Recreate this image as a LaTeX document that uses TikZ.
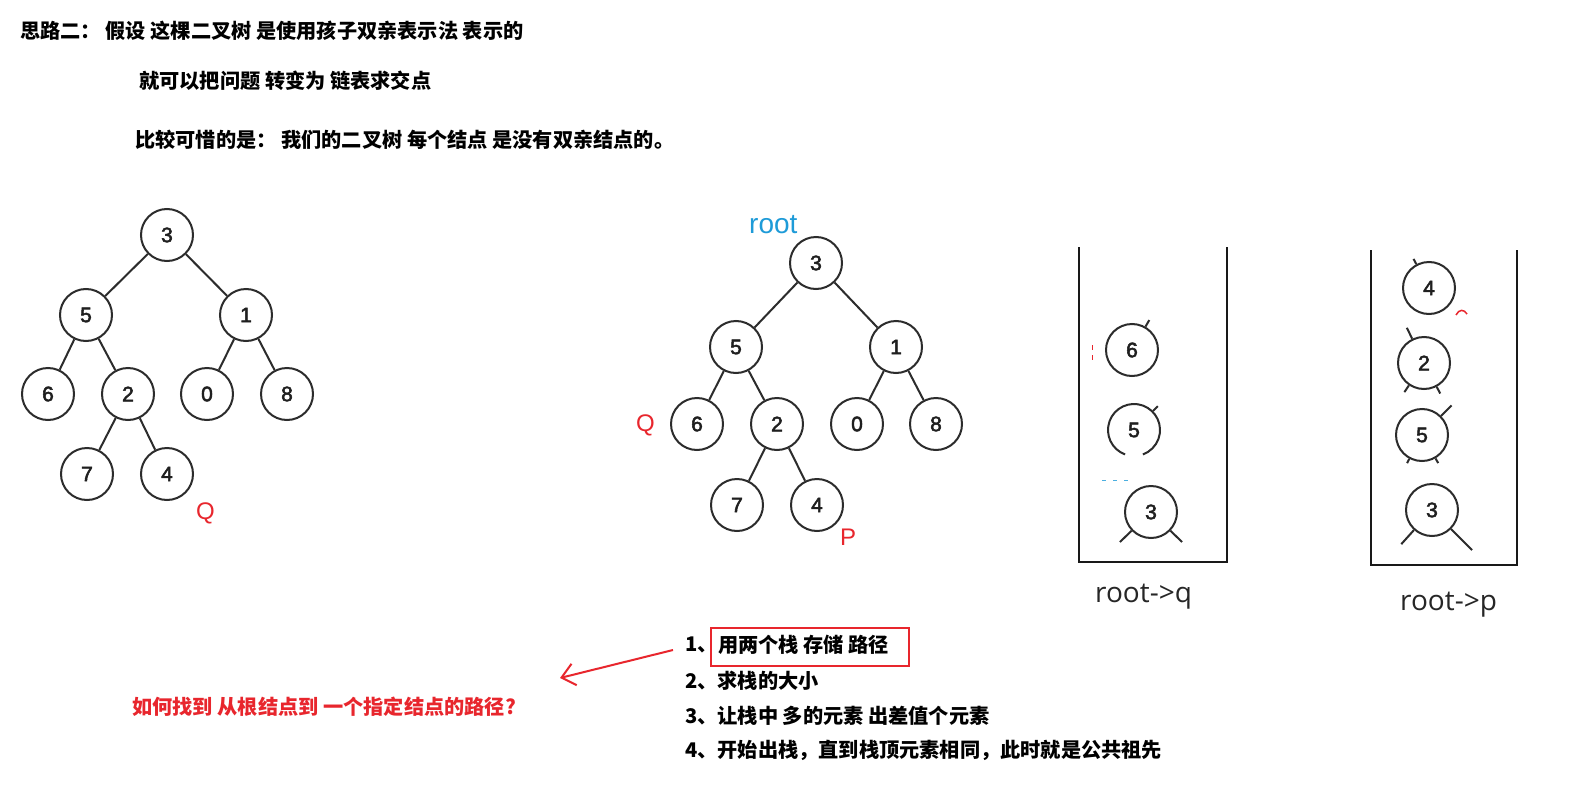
\documentclass[tikz,border=0pt]{standalone}
\usepackage{fontspec}
\newfontfamily\cjk{Noto Sans CJK SC}
\newfontfamily\lsans{Liberation Sans}
\newfontfamily\numfont{Liberation Sans}[FakeBold=2.5]
\newfontfamily\osans{Open Sans}
\usetikzlibrary{arrows.meta,calc}
\definecolor{myred}{HTML}{E8262D}
\definecolor{myblue}{HTML}{1E9BD8}
\definecolor{treegray}{HTML}{2C2C2C}
\begin{document}
\begin{tikzpicture}[x=1pt,y=-1pt,
  tnode/.style={circle,draw=treegray,line width=2pt,minimum size=52pt,inner sep=0pt,
    font=\numfont\fontsize{21}{21}\selectfont,text=black!88},
  snode/.style={circle,line width=2pt,minimum size=52pt,inner sep=0pt,
    font=\numfont\fontsize{21}{21}\selectfont,text=black!88},
  tedge/.style={draw=treegray,line width=2pt},
  stackline/.style={draw=black!90,line width=2.4pt},
  cjktext/.style={anchor=west,inner sep=0pt,font=\cjk\bfseries\fontsize{20.2}{24}\selectfont},
  redlabel/.style={anchor=base west,inner sep=0pt,text=myred,font=\lsans\fontsize{24}{24}\selectfont},
  stacklabel/.style={anchor=base west,inner sep=0pt,text=black!85,font=\osans\fontsize{28}{28}\selectfont},
  redbox/.style={draw=myred,line width=2pt,minimum width=198pt,minimum height=38pt,inner sep=0pt},
  redarrow/.style={draw=myred,line width=2pt,-{Straight Barb[length=13pt,width=22pt,line width=2pt]}}
]
\useasboundingbox (0,0) rectangle (1579,792);
\fill[white] (0,0) rectangle (1579,792);

% ---- header text ----
\node[cjktext] (h1) at (20,31) {思路二： 假设 这棵二叉树 是使用孩子双亲表示法 表示的};
\node[cjktext] (h2) at (139,81) {就可以把问题 转变为 链表求交点};
\node[cjktext] (h3) at (135,140) {比较可惜的是： 我们的二叉树 每个结点 是没有双亲结点的。};

% ---- tree 1 ----
\node[tnode] (a3) at (167,235) {3};
\node[tnode] (a5) at (86,315) {5};
\node[tnode] (a1) at (246,315) {1};
\node[tnode] (a6) at (48,394) {6};
\node[tnode] (a2) at (128,394) {2};
\node[tnode] (a0) at (207,394) {0};
\node[tnode] (a8) at (287,394) {8};
\node[tnode] (a7) at (87,474) {7};
\node[tnode] (a4) at (167,474) {4};
\foreach \p/\c in {a3/a5,a3/a1,a5/a6,a5/a2,a1/a0,a1/a8,a2/a7,a2/a4}
  \draw[tedge] (\p) -- (\c);
\node[redlabel] (qa) at (196,519) {Q};

% ---- tree 2 ----
\node[tnode] (b3) at (816,263) {3};
\node[tnode] (b5) at (736,347) {5};
\node[tnode] (b1) at (896,347) {1};
\node[tnode] (b6) at (697,424) {6};
\node[tnode] (b2) at (777,424) {2};
\node[tnode] (b0) at (857,424) {0};
\node[tnode] (b8) at (936,424) {8};
\node[tnode] (b7) at (737,505) {7};
\node[tnode] (b4) at (817,505) {4};
\foreach \p/\c in {b3/b5,b3/b1,b5/b6,b5/b2,b1/b0,b1/b8,b2/b7,b2/b4}
  \draw[tedge] (\p) -- (\c);
\node[anchor=base west,inner sep=0pt,text=myblue,font=\lsans\fontsize{28}{28}\selectfont] (root) at (749,233) {root};
\node[redlabel] (qb) at (636,431) {Q};
\node[redlabel] (pb) at (840,545) {P};

% ---- stack 1 (root->q) ----
\draw[stackline] (1079,247) -- (1079,562) -- (1227,562) -- (1227,247);
\node[snode,draw=treegray] (c6) at (1132,350) {6};
\node[snode] (c5) at (1134,430) {5};
\draw[tedge] ([shift={(110:26)}]c5.center) arc[start angle=110,end angle=430,radius=26];
\node[snode,draw=treegray] (c3) at (1151,512) {3};
\draw[tedge] (c6.60) -- ($(c6)!1.28!(c6.60)$);
\draw[tedge] (c5.45) -- ($(c5)!1.25!(c5.45)$);
\draw[tedge] (c3.-136) -- ($(c3)!1.6!(c3.-136)$);
\draw[tedge] (c3.-44) -- ($(c3)!1.6!(c3.-44)$);
\draw[myred,line width=1pt,dash pattern=on 5pt off 5pt] (1092,345) -- (1092,361);
\draw[myblue!80,line width=1pt,dash pattern=on 4pt off 7pt] (1102,480) -- (1134,480);
\node[stacklabel] (lq) at (1095,602) {root->q};

% ---- stack 2 (root->p) ----
\draw[stackline] (1371,250) -- (1371,565) -- (1517,565) -- (1517,250);
\node[snode,draw=treegray] (d4) at (1429,288) {4};
\node[snode,draw=treegray] (d2) at (1424,363) {2};
\node[snode,draw=treegray] (d5) at (1422,435) {5};
\node[snode,draw=treegray] (d3) at (1432,510) {3};
\draw[tedge] (d4.118) -- ($(d4)!1.22!(d4.118)$);
\draw[tedge] (d2.116) -- ($(d2)!1.45!(d2.116)$);
\draw[tedge] (d2.-124) -- ($(d2)!1.3!(d2.-124)$);
\draw[tedge] (d2.-62) -- ($(d2)!1.28!(d2.-62)$);
\draw[tedge] (d5.45) -- ($(d5)!1.55!(d5.45)$);
\draw[tedge] (d5.-118) -- ($(d5)!1.18!(d5.-118)$);
\draw[tedge] (d5.-60) -- ($(d5)!1.2!(d5.-60)$);
\draw[tedge] (d3.-132) -- ($(d3)!1.7!(d3.-132)$);
\draw[tedge] (d3.-45) -- ($(d3)!2.1!(d3.-45)$);
\draw[myred,line width=1.5pt] (1456,315) .. controls (1459,309) and (1464,309) .. (1467,314);
\node[stacklabel] (lp) at (1400,610) {root->p};

% ---- steps list ----
\node[cjktext] (s1n) at (685,645) {1、};
\node[cjktext] (s1t) at (s1n.east) {用两个栈 存储 路径};
\node[redbox] (box) at (810,647) {};
\node[cjktext] (s2) at (685,681) {2、求栈的大小};
\node[cjktext] (s3) at (685,716) {3、让栈中 多的元素 出差值个元素};
\node[cjktext] (s4) at (685,750) {4、开始出栈，直到栈顶元素相同，此时就是公共祖先};

% ---- red question and arrow ----
\node[cjktext,text=myred] (qq) at (132,707) {如何找到 从根结点到 一个指定结点的路径?};
\coordinate (arrS) at (673,650);
\coordinate (arrT) at (560,678);
\draw[redarrow] (arrS) -- (arrT);
\end{tikzpicture}
\end{document}
